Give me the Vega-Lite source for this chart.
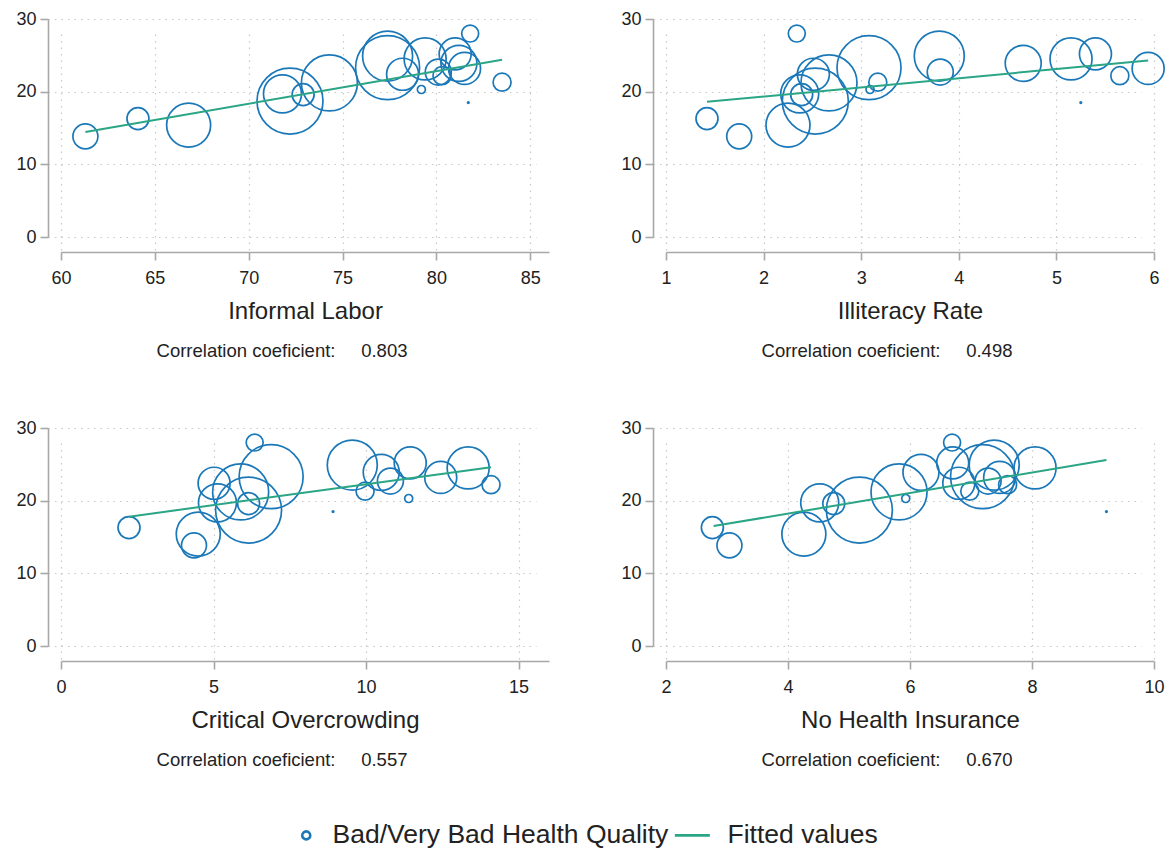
{
  "$schema": "https://vega.github.io/schema/vega-lite/v6.json",
  "background": "white",
  "padding": {"left": 15, "top": 10, "right": 0, "bottom": 0},
  "datasets": {
    "obs": [
      {"region": "A", "health": 13.85, "pop": 156, "informal": 61.3, "illiteracy": 1.75, "overcrowding": 4.36, "noinsurance": 3.04},
      {"region": "B", "health": 16.3, "pop": 121, "informal": 64.1, "illiteracy": 1.42, "overcrowding": 2.23, "noinsurance": 2.76},
      {"region": "C", "health": 15.4, "pop": 484, "informal": 66.8, "illiteracy": 2.25, "overcrowding": 4.5, "noinsurance": 4.26},
      {"region": "D", "health": 18.7, "pop": 1089, "informal": 72.2, "illiteracy": 2.53, "overcrowding": 6.15, "noinsurance": 5.17},
      {"region": "E", "health": 19.7, "pop": 361, "informal": 71.8, "illiteracy": 2.37, "overcrowding": 5.13, "noinsurance": 4.52},
      {"region": "F", "health": 19.6, "pop": 121, "informal": 72.9, "illiteracy": 2.39, "overcrowding": 6.15, "noinsurance": 4.75},
      {"region": "G", "health": 22.4, "pop": 256, "informal": 78.2, "illiteracy": 2.51, "overcrowding": 5.02, "noinsurance": 6.8},
      {"region": "H", "health": 21.2, "pop": 784, "informal": 74.3, "illiteracy": 2.67, "overcrowding": 5.89, "noinsurance": 5.82},
      {"region": "I", "health": 23.3, "pop": 1024, "informal": 77.4, "illiteracy": 3.08, "overcrowding": 6.89, "noinsurance": 7.19},
      {"region": "J", "health": 20.3, "pop": 16, "informal": 79.2, "illiteracy": 3.09, "overcrowding": 11.4, "noinsurance": 5.93},
      {"region": "K", "health": 21.3, "pop": 81, "informal": 83.5, "illiteracy": 3.17, "overcrowding": 9.97, "noinsurance": 6.98},
      {"region": "L", "health": 24.9, "pop": 625, "informal": 77.4, "illiteracy": 3.8, "overcrowding": 9.55, "noinsurance": 7.38},
      {"region": "M", "health": 22.7, "pop": 169, "informal": 80.1, "illiteracy": 3.81, "overcrowding": 10.8, "noinsurance": 7.28},
      {"region": "N", "health": 23.9, "pop": 324, "informal": 81.2, "illiteracy": 4.66, "overcrowding": 10.5, "noinsurance": 6.18},
      {"region": "O", "health": 24.5, "pop": 441, "informal": 79.4, "illiteracy": 5.15, "overcrowding": 13.35, "noinsurance": 8.05},
      {"region": "P", "health": 25.2, "pop": 256, "informal": 81.0, "illiteracy": 5.4, "overcrowding": 11.45, "noinsurance": 6.7},
      {"region": "Q", "health": 22.2, "pop": 81, "informal": 80.3, "illiteracy": 5.65, "overcrowding": 14.1, "noinsurance": 7.6},
      {"region": "R", "health": 23.2, "pop": 256, "informal": 81.5, "illiteracy": 5.94, "overcrowding": 12.45, "noinsurance": 7.47},
      {"region": "S", "health": 28.0, "pop": 72, "informal": 81.8, "illiteracy": 2.34, "overcrowding": 6.35, "noinsurance": 6.69},
      {"region": "T", "health": 18.5, "pop": 0.6, "informal": 81.7, "illiteracy": 5.25, "overcrowding": 8.92, "noinsurance": 9.22}
    ],
    "fit": [
      {"var": "informal", "x": 61.3, "y": 14.45},
      {"var": "informal", "x": 83.5, "y": 24.4},
      {"var": "illiteracy", "x": 1.42, "y": 18.6},
      {"var": "illiteracy", "x": 5.94, "y": 24.3},
      {"var": "overcrowding", "x": 2.23, "y": 17.8},
      {"var": "overcrowding", "x": 14.1, "y": 24.6},
      {"var": "noinsurance", "x": 2.78, "y": 16.5},
      {"var": "noinsurance", "x": 9.22, "y": 25.6}
    ]
  },
  "bounds": "flush",
  "columns": 2,
  "spacing": {"row": 191, "column": 117},
  "resolve": {
    "scale": {"color": "shared", "shape": "shared", "size": "shared"},
    "legend": {"color": "shared", "shape": "shared"}
  },
  "concat": [
    {
      "width": 488,
      "height": 218,
      "title": {"text": "Correlation coeficient:\u00a0\u00a0\u00a0\u00a0\u00a00.803", "dx": -23},
      "layer": [
        {
          "data": {"name": "obs"},
          "mark": {"type": "point", "shape": "circle", "filled": false, "strokeWidth": 1.7, "opacity": 1},
          "encoding": {
            "x": {"field": "informal", "type": "quantitative", "scale": {"domain": [60, 85]}, "axis": {"values": [60, 65, 70, 75, 80, 85], "title": "Informal Labor"}},
            "y": {"field": "health", "type": "quantitative", "scale": {"domain": [0, 30]}, "axis": {"values": [0, 10, 20, 30], "title": null}},
            "size": {"field": "pop", "type": "quantitative", "scale": {"type": "linear", "domain": [0, 1000], "range": [0, 4000]}, "legend": null},
            "color": {"datum": "Bad/Very Bad Health Quality", "type": "nominal", "scale": {"domain": ["Bad/Very Bad Health Quality", "Fitted values"], "range": ["#1b78b8", "#2aa585"]}},
            "shape": {"datum": "Bad/Very Bad Health Quality", "type": "nominal", "scale": {"domain": ["Bad/Very Bad Health Quality", "Fitted values"], "range": ["circle", "M-6.6,0L2.15,0"]}}
          }
        },
        {
          "data": {"name": "fit"},
          "transform": [{"filter": "datum.var == 'informal'"}],
          "mark": {"type": "line", "color": "#2aa585", "strokeWidth": 2},
          "encoding": {
            "x": {"field": "x", "type": "quantitative"},
            "y": {"field": "y", "type": "quantitative"}
          }
        }
      ]
    },
    {
      "width": 488,
      "height": 218,
      "title": {"text": "Correlation coeficient:\u00a0\u00a0\u00a0\u00a0\u00a00.498", "dx": -23},
      "layer": [
        {
          "data": {"name": "obs"},
          "mark": {"type": "point", "shape": "circle", "filled": false, "strokeWidth": 1.7, "opacity": 1},
          "encoding": {
            "x": {"field": "illiteracy", "type": "quantitative", "scale": {"domain": [1, 6]}, "axis": {"values": [1, 2, 3, 4, 5, 6], "title": "Illiteracy Rate"}},
            "y": {"field": "health", "type": "quantitative", "scale": {"domain": [0, 30]}, "axis": {"values": [0, 10, 20, 30], "title": null}},
            "size": {"field": "pop", "type": "quantitative", "scale": {"type": "linear", "domain": [0, 1000], "range": [0, 4000]}, "legend": null},
            "color": {"datum": "Bad/Very Bad Health Quality", "type": "nominal", "scale": {"domain": ["Bad/Very Bad Health Quality", "Fitted values"], "range": ["#1b78b8", "#2aa585"]}},
            "shape": {"datum": "Bad/Very Bad Health Quality", "type": "nominal", "scale": {"domain": ["Bad/Very Bad Health Quality", "Fitted values"], "range": ["circle", "M-6.6,0L2.15,0"]}}
          }
        },
        {
          "data": {"name": "fit"},
          "transform": [{"filter": "datum.var == 'illiteracy'"}],
          "mark": {"type": "line", "color": "#2aa585", "strokeWidth": 2},
          "encoding": {
            "x": {"field": "x", "type": "quantitative"},
            "y": {"field": "y", "type": "quantitative"}
          }
        }
      ]
    },
    {
      "width": 488,
      "height": 218,
      "title": {"text": "Correlation coeficient:\u00a0\u00a0\u00a0\u00a0\u00a00.557", "dx": -23},
      "layer": [
        {
          "data": {"name": "obs"},
          "mark": {"type": "point", "shape": "circle", "filled": false, "strokeWidth": 1.7, "opacity": 1},
          "encoding": {
            "x": {"field": "overcrowding", "type": "quantitative", "scale": {"domain": [0, 15]}, "axis": {"values": [0, 5, 10, 15], "title": "Critical Overcrowding"}},
            "y": {"field": "health", "type": "quantitative", "scale": {"domain": [0, 30]}, "axis": {"values": [0, 10, 20, 30], "title": null}},
            "size": {"field": "pop", "type": "quantitative", "scale": {"type": "linear", "domain": [0, 1000], "range": [0, 4000]}, "legend": null},
            "color": {"datum": "Bad/Very Bad Health Quality", "type": "nominal", "scale": {"domain": ["Bad/Very Bad Health Quality", "Fitted values"], "range": ["#1b78b8", "#2aa585"]}},
            "shape": {"datum": "Bad/Very Bad Health Quality", "type": "nominal", "scale": {"domain": ["Bad/Very Bad Health Quality", "Fitted values"], "range": ["circle", "M-6.6,0L2.15,0"]}}
          }
        },
        {
          "data": {"name": "fit"},
          "transform": [{"filter": "datum.var == 'overcrowding'"}],
          "mark": {"type": "line", "color": "#2aa585", "strokeWidth": 2},
          "encoding": {
            "x": {"field": "x", "type": "quantitative"},
            "y": {"field": "y", "type": "quantitative"}
          }
        }
      ]
    },
    {
      "width": 488,
      "height": 218,
      "title": {"text": "Correlation coeficient:\u00a0\u00a0\u00a0\u00a0\u00a00.670", "dx": -23},
      "layer": [
        {
          "data": {"name": "obs"},
          "mark": {"type": "point", "shape": "circle", "filled": false, "strokeWidth": 1.7, "opacity": 1},
          "encoding": {
            "x": {"field": "noinsurance", "type": "quantitative", "scale": {"domain": [2, 10]}, "axis": {"values": [2, 4, 6, 8, 10], "title": "No Health Insurance"}},
            "y": {"field": "health", "type": "quantitative", "scale": {"domain": [0, 30]}, "axis": {"values": [0, 10, 20, 30], "title": null}},
            "size": {"field": "pop", "type": "quantitative", "scale": {"type": "linear", "domain": [0, 1000], "range": [0, 4000]}, "legend": null},
            "color": {"datum": "Bad/Very Bad Health Quality", "type": "nominal", "scale": {"domain": ["Bad/Very Bad Health Quality", "Fitted values"], "range": ["#1b78b8", "#2aa585"]}},
            "shape": {"datum": "Bad/Very Bad Health Quality", "type": "nominal", "scale": {"domain": ["Bad/Very Bad Health Quality", "Fitted values"], "range": ["circle", "M-6.6,0L2.15,0"]}}
          }
        },
        {
          "data": {"name": "fit"},
          "transform": [{"filter": "datum.var == 'noinsurance'"}],
          "mark": {"type": "line", "color": "#2aa585", "strokeWidth": 2},
          "encoding": {
            "x": {"field": "x", "type": "quantitative"},
            "y": {"field": "y", "type": "quantitative"}
          }
        }
      ]
    }
  ],
  "config": {
    "view": {"stroke": null},
    "font": "Liberation Sans",
    "axis": {
      "domainColor": "#a8a8a8",
      "domainWidth": 1.6,
      "tickColor": "#a8a8a8",
      "tickWidth": 1.6,
      "tickSize": 8,
      "labelFont": "Liberation Sans",
      "labelFontSize": 18,
      "labelColor": "#222222",
      "format": "d",
      "titleFont": "Liberation Sans",
      "titleFontSize": 24,
      "titleFontWeight": "normal",
      "titleColor": "#222222",
      "gridColor": "#c8c8c8",
      "gridDash": [1.5, 5],
      "gridWidth": 1.2
    },
    "axisX": {"offset": 15, "labelPadding": 9, "titlePadding": 12, "labelFlush": false},
    "axisY": {"offset": 13, "labelPadding": 4, "labelFlush": false},
    "title": {
      "orient": "bottom",
      "font": "Liberation Sans",
      "fontSize": 18.5,
      "fontWeight": "normal",
      "color": "#222222",
      "offset": 19
    },
    "legend": {
      "orient": "none",
      "legendX": 232,
      "legendY": 803,
      "direction": "horizontal",
      "title": null,
      "labelFont": "Liberation Sans",
      "labelFontSize": 26.5,
      "labelColor": "#222222",
      "labelLimit": 0,
      "symbolSize": 64,
      "symbolStrokeWidth": 2.6,
      "labelOffset": 13,
      "columnPadding": 0
    }
  }
}
